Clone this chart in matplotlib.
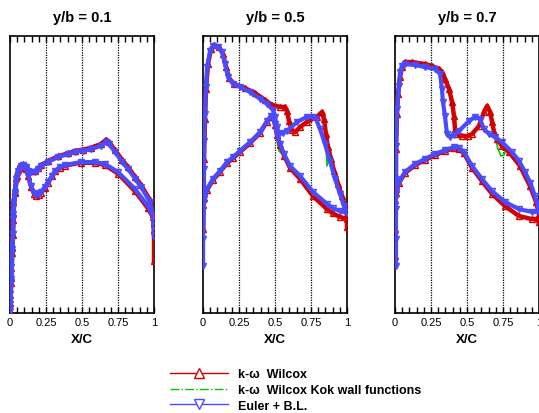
import matplotlib.pyplot as plt
from matplotlib.lines import Line2D

plt.rcParams['font.family'] = ['Liberation Sans', 'DejaVu Sans']

stations = ['y/b = 0.1', 'y/b = 0.5', 'y/b = 0.7']
xticks = [0, 0.25, 0.5, 0.75, 1]
xticklabels = ['0', '0.25', '0.5', '0.75', '1']
labels = ['k-\u03c9  Wilcox', 'k-\u03c9  Wilcox Kok wall functions', 'Euler + B.L.']

# -Cp (scaled 0..1 per panel); each path runs lower TE -> LE -> upper TE

# y/b = 0.1
euler_01_x = [1.0, 0.993, 0.958, 0.868, 0.750, 0.660, 0.590, 0.493, 0.382, 0.347, 0.313, 0.292,
              0.264, 0.243, 0.215, 0.201, 0.181, 0.167, 0.146, 0.125, 0.111, 0.090, 0.069, 0.049,
              0.035, 0.024, 0.017, 0.010, 0.003,
              0.0, 0.003, 0.007, 0.010, 0.014, 0.021, 0.021, 0.024, 0.035, 0.042, 0.056, 0.076,
              0.090, 0.111, 0.125, 0.146, 0.174, 0.194, 0.215, 0.264, 0.333, 0.400, 0.451, 0.510,
              0.563, 0.632, 0.667, 0.688, 0.729, 0.780, 0.819, 0.870, 0.910, 0.972, 0.993, 1.0, 1.0]
euler_01_y = [0.314, 0.350, 0.386, 0.448, 0.509, 0.538, 0.545, 0.545, 0.534, 0.527, 0.513, 0.495,
              0.473, 0.455, 0.437, 0.430, 0.426, 0.433, 0.458, 0.498, 0.520, 0.531, 0.523, 0.491,
              0.430, 0.357, 0.231, 0.123, 0.032,
              0.007, 0.069, 0.112, 0.166, 0.220, 0.285, 0.339, 0.401, 0.437, 0.484, 0.513, 0.531,
              0.534, 0.527, 0.513, 0.509, 0.509, 0.520, 0.531, 0.545, 0.563, 0.573, 0.581, 0.586,
              0.592, 0.603, 0.617, 0.610, 0.581, 0.545, 0.520, 0.484, 0.455, 0.401, 0.350, 0.314, 0.278]
wilcox_01_x = euler_01_x
wilcox_01_y = [0.300, 0.345, 0.378, 0.440, 0.503, 0.534, 0.542, 0.543, 0.532, 0.525, 0.511, 0.493,
               0.471, 0.452, 0.434, 0.427, 0.423, 0.430, 0.456, 0.496, 0.520, 0.533, 0.525, 0.493,
               0.432, 0.360, 0.235, 0.128, 0.036,
               0.004, 0.066, 0.110, 0.163, 0.218, 0.283, 0.337, 0.399, 0.437, 0.486, 0.516, 0.534,
               0.537, 0.530, 0.516, 0.511, 0.511, 0.522, 0.534, 0.548, 0.566, 0.576, 0.585, 0.590,
               0.597, 0.610, 0.626, 0.617, 0.588, 0.552, 0.527, 0.491, 0.462, 0.408, 0.357, 0.300, 0.188]
kok_01_x = euler_01_x
kok_01_y = [0.302, 0.346, 0.379, 0.441, 0.504, 0.535, 0.543, 0.544, 0.533, 0.526, 0.512, 0.494,
            0.472, 0.453, 0.435, 0.428, 0.424, 0.431, 0.457, 0.497, 0.520, 0.532, 0.524, 0.492,
            0.431, 0.359, 0.233, 0.126, 0.034,
            0.005, 0.067, 0.111, 0.164, 0.219, 0.284, 0.338, 0.400, 0.437, 0.485, 0.515, 0.533,
            0.536, 0.529, 0.515, 0.510, 0.510, 0.521, 0.533, 0.547, 0.565, 0.575, 0.584, 0.589,
            0.596, 0.608, 0.623, 0.615, 0.586, 0.550, 0.525, 0.489, 0.460, 0.406, 0.355, 0.305, 0.206]

# y/b = 0.5
euler_05_x = [1.0, 0.951, 0.900, 0.861, 0.764, 0.674, 0.604, 0.563, 0.535, 0.514, 0.500, 0.486,
              0.472, 0.444, 0.396, 0.326, 0.257, 0.208, 0.167, 0.118, 0.069, 0.028, 0.007, 0.0,
              0.0, 0.0, 0.007, 0.007, 0.007, 0.014, 0.021, 0.028, 0.049, 0.069, 0.104, 0.132,
              0.153, 0.174, 0.208, 0.257, 0.326, 0.396, 0.444, 0.486, 0.500, 0.514, 0.528, 0.556,
              0.583, 0.653, 0.722, 0.764, 0.785, 0.813, 0.847, 0.882, 0.917, 0.951, 0.979, 1.0]
euler_05_y = [0.361, 0.368, 0.379, 0.394, 0.437, 0.495, 0.531, 0.574, 0.610, 0.646, 0.682, 0.708,
              0.711, 0.693, 0.653, 0.617, 0.585, 0.563, 0.545, 0.513, 0.484, 0.448, 0.419, 0.394,
              0.170, 0.267, 0.412, 0.520, 0.621, 0.718, 0.816, 0.888, 0.946, 0.964, 0.960, 0.942,
              0.899, 0.852, 0.827, 0.816, 0.798, 0.773, 0.755, 0.733, 0.708, 0.671, 0.646, 0.650,
              0.657, 0.690, 0.708, 0.708, 0.700, 0.664, 0.610, 0.549, 0.484, 0.430, 0.386, 0.365]
wilcox_05_x = [1.0, 0.951, 0.900, 0.861, 0.764, 0.674, 0.604, 0.563, 0.535, 0.514, 0.500, 0.486,
               0.472, 0.444, 0.396, 0.326, 0.257, 0.208, 0.167, 0.118, 0.069, 0.028, 0.007, 0.0,
               0.0, 0.0, 0.007, 0.014, 0.021, 0.035, 0.056, 0.076, 0.111, 0.139, 0.160, 0.181,
               0.215, 0.292, 0.361, 0.431, 0.479, 0.535, 0.569, 0.583, 0.597, 0.618, 0.639, 0.674,
               0.722, 0.792, 0.826, 0.840, 0.854, 0.868, 0.889, 0.910, 0.938, 0.965, 0.986, 1.0, 1.0]
wilcox_05_y = [0.339, 0.347, 0.360, 0.375, 0.422, 0.484, 0.524, 0.568, 0.606, 0.643, 0.680, 0.706,
               0.709, 0.690, 0.650, 0.613, 0.581, 0.559, 0.541, 0.509, 0.480, 0.444, 0.415, 0.390,
               0.303, 0.412, 0.556, 0.700, 0.809, 0.899, 0.953, 0.968, 0.960, 0.935, 0.888, 0.848,
               0.827, 0.812, 0.794, 0.769, 0.751, 0.744, 0.744, 0.729, 0.693, 0.661, 0.653, 0.671,
               0.690, 0.708, 0.726, 0.700, 0.646, 0.599, 0.556, 0.513, 0.466, 0.422, 0.386, 0.350, 0.310]
kok_05_x = [1.0, 0.951, 0.861, 0.764, 0.674, 0.604, 0.563, 0.549, 0.528, 0.514, 0.500, 0.486,
            0.472, 0.444, 0.396, 0.326, 0.257, 0.167, 0.069, 0.007, 0.0,
            0.0, 0.007, 0.014, 0.021, 0.035, 0.056, 0.076, 0.111, 0.139, 0.160, 0.181,
            0.215, 0.292, 0.361, 0.431, 0.479, 0.535, 0.569, 0.583, 0.597, 0.618, 0.639, 0.674,
            0.722, 0.792, 0.826, 0.840, 0.854, 0.861, 0.875, 0.889, 0.910, 0.938, 0.965, 0.986, 1.0, 1.0]
kok_05_y = [0.339, 0.347, 0.375, 0.422, 0.484, 0.524, 0.568, 0.574, 0.585, 0.625, 0.680, 0.706,
            0.709, 0.690, 0.650, 0.613, 0.581, 0.541, 0.480, 0.415, 0.390,
            0.303, 0.556, 0.700, 0.809, 0.899, 0.953, 0.968, 0.960, 0.935, 0.888, 0.848,
            0.827, 0.812, 0.794, 0.769, 0.751, 0.744, 0.744, 0.729, 0.690, 0.655, 0.651, 0.671,
            0.690, 0.708, 0.726, 0.690, 0.610, 0.531, 0.562, 0.553, 0.513, 0.466, 0.422, 0.386, 0.350, 0.318]

# y/b = 0.7
euler_07_x = [1.0, 0.951, 0.861, 0.764, 0.674, 0.604, 0.535, 0.479, 0.444, 0.410, 0.347, 0.278,
              0.208, 0.139, 0.069, 0.028, 0.007, 0.0,
              0.007, 0.007, 0.007, 0.007, 0.007, 0.014, 0.028, 0.035, 0.049, 0.069, 0.139, 0.208,
              0.278, 0.313, 0.326, 0.333, 0.347, 0.361, 0.382, 0.410, 0.444, 0.514, 0.556, 0.590,
              0.618, 0.653, 0.694, 0.743, 0.813, 0.860, 0.903, 0.940, 0.972, 1.0]
euler_07_y = [0.365, 0.365, 0.375, 0.401, 0.440, 0.484, 0.531, 0.581, 0.596, 0.599, 0.588, 0.574,
              0.556, 0.538, 0.509, 0.473, 0.437, 0.412,
              0.170, 0.267, 0.375, 0.484, 0.603, 0.736, 0.820, 0.870, 0.892, 0.899, 0.895, 0.888,
              0.881, 0.863, 0.809, 0.762, 0.711, 0.646, 0.635, 0.643, 0.657, 0.693, 0.708, 0.700,
              0.664, 0.646, 0.635, 0.617, 0.581, 0.550, 0.509, 0.470, 0.422, 0.375]
wilcox_07_x = [1.0, 0.951, 0.861, 0.764, 0.674, 0.604, 0.535, 0.479, 0.444, 0.410, 0.347, 0.278,
               0.208, 0.139, 0.069, 0.028, 0.007, 0.0,
               0.0, 0.0, 0.007, 0.007, 0.014, 0.021, 0.035, 0.049, 0.069, 0.118, 0.208, 0.257,
               0.306, 0.326, 0.347, 0.375, 0.396, 0.410, 0.417, 0.431, 0.465, 0.507, 0.535, 0.583,
               0.618, 0.639, 0.660, 0.674, 0.688, 0.708, 0.743, 0.792, 0.868, 0.938, 0.979, 1.0, 1.0]
wilcox_07_y = [0.339, 0.339, 0.350, 0.386, 0.430, 0.476, 0.524, 0.576, 0.592, 0.595, 0.584, 0.570,
               0.552, 0.534, 0.505, 0.470, 0.433, 0.408,
               0.206, 0.303, 0.448, 0.592, 0.718, 0.791, 0.852, 0.888, 0.906, 0.906, 0.899, 0.892,
               0.881, 0.870, 0.845, 0.809, 0.762, 0.711, 0.664, 0.646, 0.639, 0.639, 0.646, 0.675,
               0.726, 0.747, 0.726, 0.690, 0.653, 0.628, 0.603, 0.581, 0.531, 0.458, 0.401, 0.357, 0.329]
kok_07_x = [1.0, 0.951, 0.861, 0.764, 0.674, 0.604, 0.535, 0.479, 0.444, 0.410, 0.347, 0.278,
            0.208, 0.139, 0.069, 0.028, 0.007, 0.0,
            0.0, 0.007, 0.014, 0.035, 0.069, 0.118, 0.208, 0.257, 0.306, 0.326, 0.347, 0.375,
            0.396, 0.403, 0.417, 0.440, 0.465, 0.507, 0.535, 0.583, 0.618, 0.639, 0.660, 0.674,
            0.688, 0.715, 0.736, 0.757, 0.778, 0.800, 0.830, 0.868, 0.938, 0.979, 1.0, 1.0]
kok_07_y = [0.339, 0.339, 0.350, 0.386, 0.430, 0.476, 0.524, 0.576, 0.592, 0.595, 0.584, 0.570,
            0.552, 0.534, 0.505, 0.470, 0.433, 0.408,
            0.206, 0.448, 0.718, 0.852, 0.906, 0.906, 0.899, 0.892, 0.881, 0.866, 0.840, 0.800,
            0.747, 0.700, 0.646, 0.636, 0.639, 0.639, 0.646, 0.675, 0.726, 0.747, 0.726, 0.690,
            0.650, 0.592, 0.567, 0.570, 0.600, 0.585, 0.555, 0.531, 0.458, 0.401, 0.357, 0.335]

red = '#d40000'
green = '#00c800'
blue = '#4a4aff'

fig = plt.figure(figsize=(5.39, 4.14), dpi=100)
lefts = [10, 203, 395]
panels = [
    ((kok_01_x, kok_01_y), (wilcox_01_x, wilcox_01_y), (euler_01_x, euler_01_y)),
    ((kok_05_x, kok_05_y), (wilcox_05_x, wilcox_05_y), (euler_05_x, euler_05_y)),
    ((kok_07_x, kok_07_y), (wilcox_07_x, wilcox_07_y), (euler_07_x, euler_07_y)),
]

for left, title, (kok, wilcox, euler) in zip(lefts, stations, panels):
    ax = fig.add_axes([left / 539, 100 / 414, 144 / 539, 277 / 414])
    ax.plot(*kok, color=green, lw=1.2, zorder=2)
    ax.plot(*wilcox, color=red, lw=3.2, marker='^', ms=4.5, mfc='none', mew=1.0, zorder=3)
    ax.plot(*euler, color=blue, lw=3.0, marker='v', ms=4.5, mfc='none', mew=1.0, zorder=4)

    ax.set_xlim(0, 1)
    ax.set_ylim(0, 1)
    ax.set_yticks([])
    ax.set_xticks(xticks)
    ax.set_xticklabels(xticklabels, fontsize=8)
    ax.set_xticks([i * 0.05 for i in range(21)], minor=True)
    ax.tick_params(axis='x', which='both', direction='in', top=True, length=4, width=1, pad=3)
    for xv in xticks[1:-1]:
        ax.axvline(xv, color='k', ls=(0, (1, 1)), lw=0.9, zorder=1)
    for s in ax.spines.values():
        s.set_linewidth(1.2)
    ax.set_title(title, fontsize=10.5, fontweight='bold', pad=11)
    ax.set_xlabel('X/C', fontsize=9.5, fontweight='bold', labelpad=4)

handles = [
    Line2D([], [], color=red, lw=1, marker='^', ms=7, mfc='white', mec=red, mew=1),
    Line2D([], [], color=green, lw=1, ls='-.'),
    Line2D([], [], color=blue, lw=1, marker='v', ms=7, mfc='white', mec=blue, mew=1),
]
fig.legend(handles, labels, loc='upper left', bbox_to_anchor=(170 / 539, 0.108),
           frameon=False, prop={'size': 9, 'weight': 'bold'}, handlelength=4.6,
           handletextpad=0.8, labelspacing=0.3, borderpad=0, borderaxespad=0, numpoints=1)

fig.savefig('out.png', dpi=100)
